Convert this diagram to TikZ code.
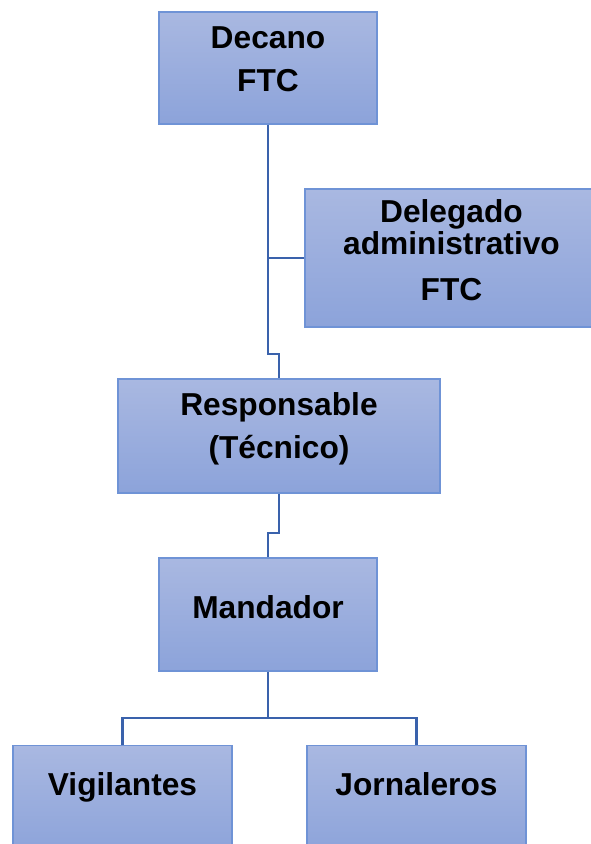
\documentclass[tikz,border=0pt]{standalone}
\usepackage{fontspec}
\setmainfont{Liberation Sans}
\usetikzlibrary{positioning, calc}
\definecolor{boxtop}{HTML}{A9B8E1}
\definecolor{boxbot}{HTML}{8CA3DA}
\definecolor{boxedge}{HTML}{6F93D6}
\definecolor{linkblue}{HTML}{3A62AC}

\begin{document}
\begin{tikzpicture}[
  x=1pt, y=-1pt,
  box/.style={rectangle, draw=boxedge, line width=1.5pt, top color=boxtop, bottom color=boxbot,
    align=center, inner sep=0pt, font=\fontsize{31.7}{43}\selectfont\bfseries, text=black},
  link/.style={draw=linkblue, line width=2.5pt},
]

% Page frame
\useasboundingbox (0,0) rectangle (591,844);
\clip (0,0) rectangle (591,844);

% ============ Boxes ============
\node[box, minimum width=218pt, minimum height=112pt, text height=68pt, text depth=22pt]
  (decano) at (268,68) {Decano\\FTC};
\node[box, minimum width=293pt, minimum height=138pt, text height=106pt, text depth=22pt]
  (delegado) at (451.5,258) {Delegado\\[-11pt]administrativo\\[3pt]FTC};
\node[box, minimum width=322pt, minimum height=114pt, text height=66pt, text depth=22pt]
  (resp) at (279,436) {Responsable\\(Técnico)};
\node[box, minimum width=218pt, minimum height=113pt, text height=22pt, text depth=15pt]
  (mandador) at (268,614.5) {Mandador};
\node[box, minimum width=219pt, minimum height=109pt, text height=22pt, text depth=32pt]
  (vig) at (122.5,800) {Vigilantes};
\node[box, minimum width=219pt, minimum height=109pt, text height=22pt, text depth=32pt]
  (jorn) at (416.5,800) {Jornaleros};

% ============ Connectors ============
\draw[link] (decano.south) -- ++(0,229) -| (resp.north);
\draw[link] (delegado.west) -- (decano.south |- delegado.west);
\draw[link] (resp.south) -- ++(0,39) -| (mandador.north);
\draw[link] (mandador.south) -- ++(0,46) coordinate (fork);
\draw[link] (vig.north) |- (fork) -| (jorn.north);

\end{tikzpicture}
\end{document}
